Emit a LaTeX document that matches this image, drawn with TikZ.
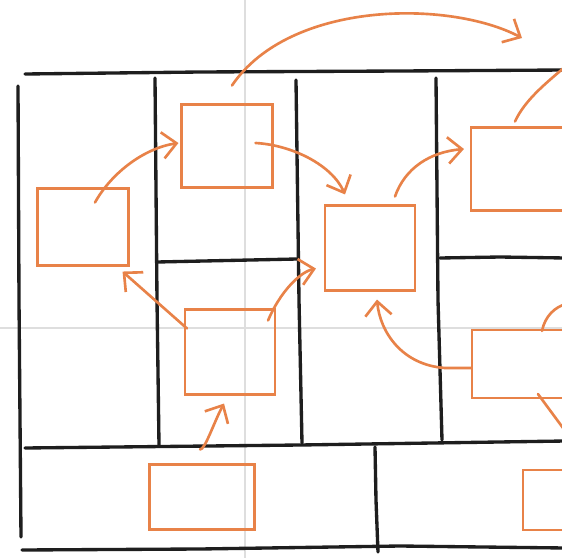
\documentclass[tikz,border=0pt]{standalone}
\usetikzlibrary{arrows.meta,calc}
\definecolor{sketchorange}{RGB}{232,130,72}
\definecolor{gridgrey}{RGB}{222,222,222}
\definecolor{inkblack}{RGB}{30,30,30}
\tikzset{
  gridline/.style={draw=gridgrey,line width=0.8pt},
  inkline/.style={draw=inkblack,line width=1.9pt,line cap=round},
  card/.style={draw=sketchorange,line width=1.2pt,rectangle,inner sep=0pt},
  flow/.style={draw=sketchorange,line width=1.5pt,line cap=round,
    -{Straight Barb[length=8pt,width=15pt,line width=1.5pt]}},
  flowplain/.style={draw=sketchorange,line width=1.5pt,line cap=round}
}
\begin{document}
\begin{tikzpicture}[x=0.02cm,y=-0.02cm]
\useasboundingbox (0,0) rectangle (562,558);
\clip (0,0) rectangle (562,558);
\fill[white] (0,0) rectangle (562,558);
% faint background grid
\draw[gridline] (245,0) -- (245,558);
\draw[gridline] (0,328) -- (562,328);
% canvas frame
\draw[inkline] (25,74) -- (200,72) -- (400,71) -- (565,70);
\draw[inkline] (18,86) -- (19,300) -- (21,537);
\draw[inkline] (155,78) -- (157,300) -- (159,445);
\draw[inkline] (296,80) -- (299,300) -- (302,443);
\draw[inkline] (436,78) -- (438,300) -- (442,440);
\draw[inkline] (157,262) -- (297,259);
\draw[inkline] (440,258) -- (500,257) -- (565,258);
\draw[inkline] (25,448) -- (300,445) -- (565,441);
\draw[inkline] (375,447) -- (376,500) -- (378,552);
\draw[inkline] (22,550) -- (200,549) -- (400,546) -- (565,548);
% cards
\node[card,minimum width=1.82cm,minimum height=1.54cm] (A) at (83,227) {};
\node[card,minimum width=1.82cm,minimum height=1.66cm] (B) at (227,146) {};
\node[card,minimum width=1.80cm,minimum height=1.70cm] (C) at (370,248) {};
\node[card,minimum width=2.60cm,minimum height=1.66cm] (D) at (536,169) {};
\node[card,minimum width=1.80cm,minimum height=1.70cm] (E) at (230,352) {};
\node[card,minimum width=2.56cm,minimum height=1.36cm] (F) at (536,364) {};
\node[card,minimum width=2.10cm,minimum height=1.30cm] (G) at (202,497) {};
\node[card,minimum width=1.92cm,minimum height=1.20cm] (H) at (571,500) {};
% free ends off the picture
\coordinate (offD) at (566,66);
\coordinate (offFtop) at (566,304);
\coordinate (offFbot) at (566,432);
% flows
\draw[flow] ($(A.north)+(12,15)$) .. controls (112,172) and (145,148) .. ($(B.west)+(-2,-3)$);
\draw[flow] ($(B.east)+(-18,-3)$) .. controls (292,145) and (332,165) .. ($(C.north)+(-25,-10)$);
\draw[flow] ($(B.north)+(5,-18)$) .. controls (290,0) and (450,0) .. (522,38);
\draw[flow] ($(C.north)+(25,-8)$) .. controls (405,168) and (430,152) .. ($(D.west)+(-6,-20)$);
\draw[flowplain] ($(D.north)+(-21,-5)$) .. controls (525,100) and (545,84) .. (offD);
\draw[flow] ($(E.north west)+(3,20)$) -- ($(A.south east)+(-7,5)$);
\draw[flow] ($(E.north east)+(-8,12)$) .. controls (280,292) and (300,272) .. ($(C.south west)+(-8,-23)$);
\draw[flow] (F.west |- 0,368) -- (445,368) .. controls (402,365) and (380,332) .. ($(C.south)+(7,8)$);
\draw[flow] ($(G.north)+(-2,-14)$) .. controls (205,450) and (214,422) .. ($(E.south)+(-6,8)$);
\draw[flowplain] ($(F.north)+(6,2)$) .. controls (545,316) and (555,307) .. (offFtop);
\draw[flowplain] ($(F.south)+(2,-5)$) -- (offFbot);
\end{tikzpicture}
\end{document}
